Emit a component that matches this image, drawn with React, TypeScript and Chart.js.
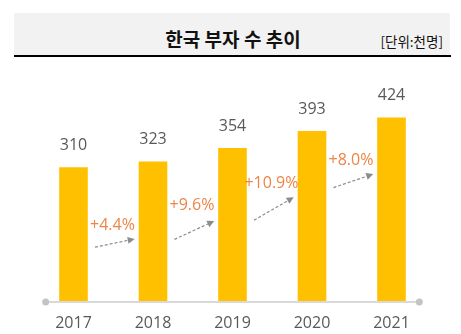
import React, { useEffect, useRef } from "react";
import { Chart, registerables } from "chart.js";

Chart.register(...registerables);

const categories = ["2017", "2018", "2019", "2020", "2021"];
const values = [310, 323, 354, 393, 424];
const growthLabels = ["+4.4%", "+9.6%", "+10.9%", "+8.0%"];
const growthLabelY = [177, 223, 272, 325];
const arrowStartY = [126, 144, 188, 263];
const arrowEndY = [145, 186, 241, 294];

const FONT = "'Open Sans', 'Noto Sans', sans-serif";

const overlayPlugin = {
  id: "overlay",
  afterDatasetsDraw(chart: any) {
    const ctx = chart.ctx;
    const xs = chart.scales.x;
    const ys = chart.scales.y;
    const step = xs.getPixelForValue(1) - xs.getPixelForValue(0);
    const px = (v: number) => xs.getPixelForValue(0) + v * step;
    const base = ys.getPixelForValue(0);
    ctx.save();
    // axis line with end dots
    const left = px(-0.35);
    const right = px(categories.length - 1 + 0.35);
    ctx.strokeStyle = "#d9d9d9";
    ctx.lineWidth = 2;
    ctx.beginPath();
    ctx.moveTo(left, base);
    ctx.lineTo(right, base);
    ctx.stroke();
    ctx.fillStyle = "#c4c4c4";
    [left, right].forEach((x) => {
      ctx.beginPath();
      ctx.arc(x, base, 3.5, 0, Math.PI * 2);
      ctx.fill();
    });

    // value labels
    const meta = chart.getDatasetMeta(0);
    ctx.font = `16px ${FONT}`;
    ctx.fillStyle = "#595959";
    ctx.textAlign = "center";
    ctx.textBaseline = "middle";
    meta.data.forEach((bar: any, i: number) => {
      ctx.fillText(String(values[i]), bar.x, bar.y - 22);
    });

    // growth labels and arrows
    growthLabels.forEach((label, i) => {
      const sx = px(i + 0.27);
      const ex = px(i + 0.77);
      const sy = ys.getPixelForValue(arrowStartY[i]);
      const ey = ys.getPixelForValue(arrowEndY[i]);
      const ang = Math.atan2(ey - sy, ex - sx);
      const headLen = 7;
      const lx = ex - headLen * Math.cos(ang);
      const ly = ey - headLen * Math.sin(ang);
      ctx.strokeStyle = "#8c8c8c";
      ctx.lineWidth = 1.2;
      ctx.setLineDash([3, 2]);
      ctx.beginPath();
      ctx.moveTo(sx, sy);
      ctx.lineTo(lx, ly);
      ctx.stroke();
      ctx.setLineDash([]);
      ctx.fillStyle = "#8c8c8c";
      ctx.beginPath();
      ctx.moveTo(ex, ey);
      ctx.lineTo(lx + 3.5 * Math.sin(ang), ly - 3.5 * Math.cos(ang));
      ctx.lineTo(lx - 3.5 * Math.sin(ang), ly + 3.5 * Math.cos(ang));
      ctx.closePath();
      ctx.fill();

      ctx.font = `16px ${FONT}`;
      ctx.fillStyle = "#EE8446";
      ctx.textAlign = "center";
      ctx.textBaseline = "middle";
      ctx.fillText(label, px(i + 0.49), ys.getPixelForValue(growthLabelY[i]));
    });
    ctx.restore();
  },
};

export default function App() {
  const ref = useRef<HTMLCanvasElement>(null);
  useEffect(() => {
    if (!ref.current) return;
    const chart = new Chart(ref.current, {
      type: "bar",
      data: {
        labels: categories,
        datasets: [
          {
            data: values,
            backgroundColor: "#FFC000",
            borderWidth: 0,
            categoryPercentage: 1,
            barPercentage: 0.36,
          },
        ],
      },
      options: {
        animation: false,
        responsive: false,
        devicePixelRatio: 1,
        layout: { padding: { left: 33.75, right: 29.75, top: 84.5, bottom: 0 } },
        plugins: { legend: { display: false }, tooltip: { enabled: false } },
        scales: {
          x: {
            grid: { display: false, drawTicks: false },
            border: { display: false },
            ticks: { color: "#595959", font: { family: FONT, size: 16 }, padding: 12 },
            afterFit: (scale: any) => {
              scale.height = 32;
            },
          },
          y: { display: false, min: 0, max: 500 },
        },
      },
      plugins: [overlayPlugin],
    });
    return () => chart.destroy();
  }, []);

  return (
    <div style={{ position: "absolute", left: 0, top: 0, width: 461, height: 334, background: "#fff" }}>
      <div style={{ position: "absolute", left: 14, top: 13, width: 436, height: 43, background: "#f2f2f2" }} />
      <div style={{ position: "absolute", left: 14, top: 55, width: 437, height: 2, background: "#000" }} />
      <div
        style={{
          position: "absolute",
          left: 0,
          width: 466,
          top: 29,
          textAlign: "center",
          fontFamily: "'Noto Sans CJK KR', sans-serif",
          fontWeight: 600,
          fontSize: 19,
          lineHeight: "20px",
          color: "#111",
        }}
      >
        한국 부자 수 추이
      </div>
      <div
        style={{
          position: "absolute",
          right: 461 - 443,
          top: 33,
          fontFamily: "'Noto Sans CJK KR', sans-serif",
          fontSize: 13.5,
          lineHeight: "16px",
          color: "#111",
        }}
      >
        [단위:천명]
      </div>
      <canvas ref={ref} width={461} height={334} style={{ position: "absolute", left: 0, top: 0 }} />
    </div>
  );
}
